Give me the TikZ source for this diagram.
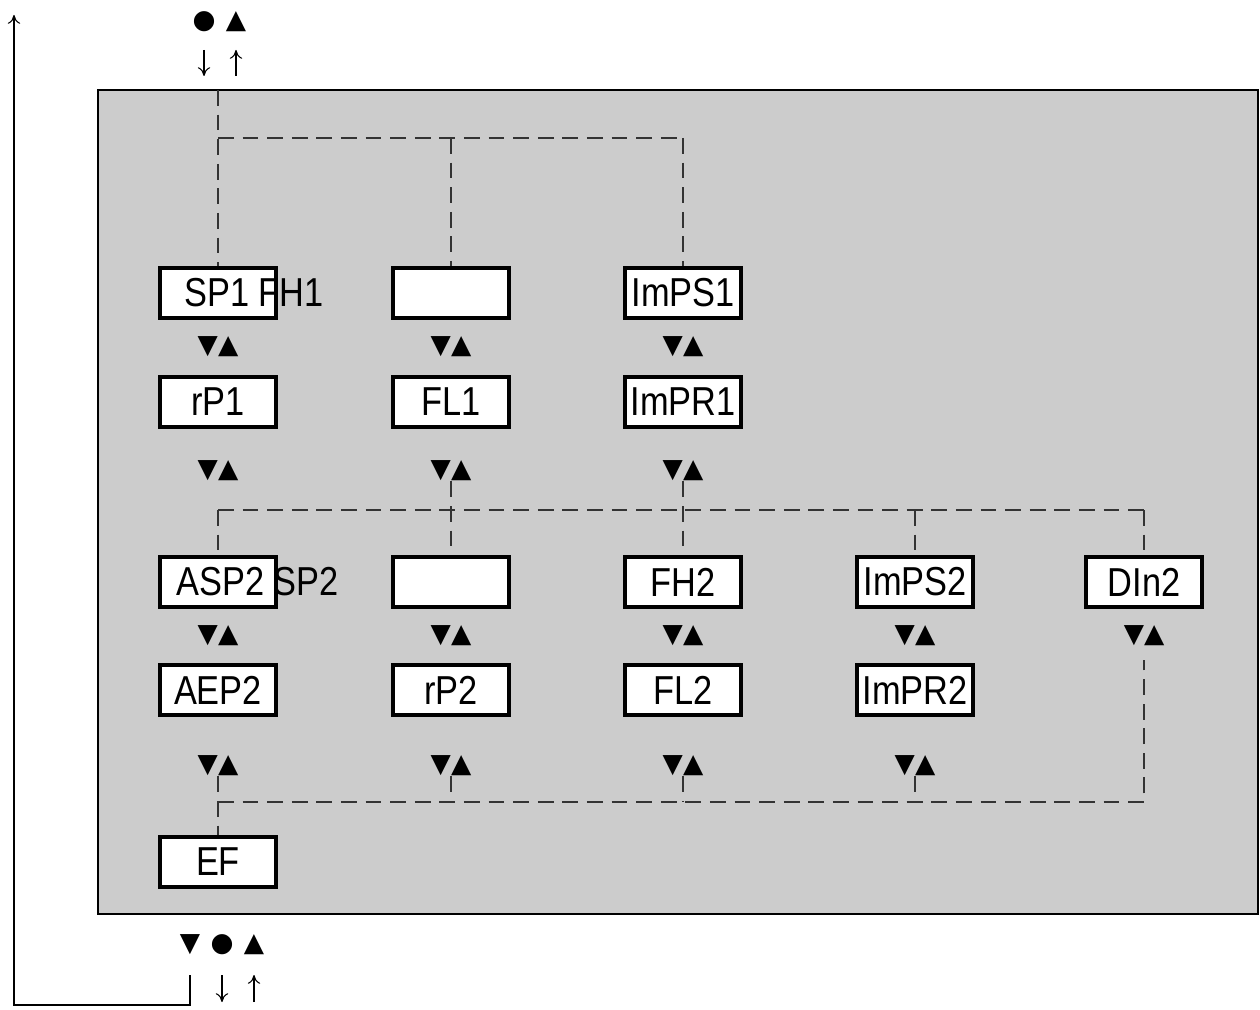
\documentclass[tikz,border=0pt]{standalone}
\usepackage{fontspec}
\setmainfont{Liberation Sans}
\newfontfamily\symfont{DejaVu Sans}
\newfontfamily\boxfont[FakeStretch=0.85]{Liberation Sans}
\usetikzlibrary{positioning,arrows.meta}
\begin{document}
\begin{tikzpicture}[x=0.02cm,y=-0.02cm,
box/.style={rectangle,draw,line width=2.2pt,fill=white,minimum width=2.32cm,minimum height=1cm,inner sep=0pt,
  font=\boxfont\fontsize{23}{24}\selectfont},
lbl/.style={font=\boxfont\fontsize{23}{24}\selectfont,inner sep=0pt},
updn/.style={font=\symfont\fontsize{15}{16}\selectfont,inner sep=0pt},
link/.style={dashed,dash pattern=on 9pt off 5pt,thick,black!80},
flow/.style={-{To[length=5pt,width=7pt]},semithick}
]
\useasboundingbox (0,0) rectangle (1260,1010);
\fill[gray!40,draw=black,thick] (98,90) rectangle (1258,914);
% top entry
\node[updn] (dot1) at (204,22) {●};
\node[updn] (up1) at (236,22) {▲};
\coordinate (d1a) at (204,50); \coordinate (d1b) at (204,76);
\coordinate (u1a) at (236,76); \coordinate (u1b) at (236,50);
\draw[flow] (d1a) -- (d1b);
\draw[flow] (u1a) -- (u1b);
% boxes
\node[box] (SP1) at (218,293) {};
\node[lbl,anchor=west] (SP1t) at (184,293) {SP1 FH1};
\node[box] (B12) at (451,293) {};
\node[box] (ImPS1) at (683,293) {ImPS1};
\node[box] (rP1) at (218,402) {rP1};
\node[box] (FL1) at (451,402) {FL1};
\node[box] (ImPR1) at (683,402) {ImPR1};
\node[box] (ASP2) at (218,582) {};
\node[lbl,anchor=west] (ASP2t) at (176,582) {ASP2 SP2};
\node[box] (B22) at (451,582) {};
\node[box] (FH2) at (683,582) {FH2};
\node[box] (ImPS2) at (915,582) {ImPS2};
\node[box] (DIn2) at (1144,582) {DIn2};
\node[box] (AEP2) at (218,690) {AEP2};
\node[box] (rP2) at (451,690) {rP2};
\node[box] (FL2) at (683,690) {FL2};
\node[box] (ImPR2) at (915,690) {ImPR2};
\node[box] (EF) at (218,862) {EF};
% up/down keys
\foreach \x/\n in {218/a,451/b,683/c}{
  \node[updn] (k1\n) at (\x,347) {▼▲};
  \node[updn] (k2\n) at (\x,471) {▼▲};}
\foreach \x/\n in {218/a,451/b,683/c,915/d,1144/e}
  \node[updn] (k3\n) at (\x,636) {▼▲};
\foreach \x/\n in {218/a,451/b,683/c,915/d}
  \node[updn] (k4\n) at (\x,766) {▼▲};
% dashed links
\coordinate (t0) at (218,90); \coordinate (t1) at (218,138);
\coordinate (t2) at (451,138); \coordinate (t3) at (683,138);
\draw[link] (t0) -- (SP1.north);
\draw[link] (t1) -- (t3);
\draw[link] (t2) -- (B12.north);
\draw[link] (t3) -- (ImPS1.north);
\coordinate (m1) at (218,510); \coordinate (m5) at (1144,510);
\draw[link] (m1) -- (m5);
\draw[link] (m1) -- (ASP2.north);
\draw[link] (k2b.south) -- (B22.north);
\draw[link] (k2c.south) -- (FH2.north);
\draw[link] (915,510) -- (ImPS2.north);
\draw[link] (m5) -- (DIn2.north);
\coordinate (b1) at (218,802); \coordinate (b5) at (1144,802);
\draw[link] (b1) -- (b5) -- (1144,660);
\draw[link] (k4a.south) -- (EF.north);
\foreach \n in {b,c,d} \draw[link] (k4\n.south) -- (k4\n.south |- b1);
% bottom exit
\node[updn] (dn3) at (190,945) {▼};
\node[updn] (dot3) at (222,945) {●};
\node[updn] (up3) at (254,945) {▲};
\coordinate (d3a) at (222,975); \coordinate (d3b) at (222,1002);
\coordinate (u3a) at (254,1002); \coordinate (u3b) at (254,975);
\draw[flow] (d3a) -- (d3b);
\draw[flow] (u3a) -- (u3b);
\coordinate (r0) at (190,975); \coordinate (r1) at (190,1005);
\coordinate (r2) at (14,1005); \coordinate (r3) at (14,15);
\draw[flow] (r0) -- (r1) -- (r2) -- (r3);
\end{tikzpicture}
\end{document}
